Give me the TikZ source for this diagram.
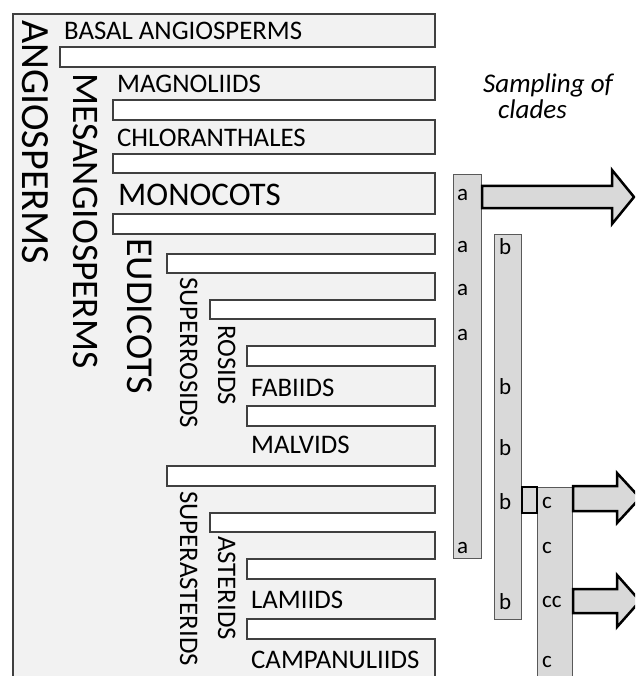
\documentclass[tikz,border=0pt]{standalone}
\usepackage{fontspec}
\setmainfont{Carlito}
\usetikzlibrary{positioning}
\definecolor{hellgrau}{RGB}{242,242,242}
\definecolor{spaltengrau}{RGB}{217,217,217}

\begin{document}
\begin{tikzpicture}[x=1pt,y=-1pt,
	baum/.style={draw=black!75, fill=hellgrau, line width=1.2pt},
	lbl/.style={inner sep=0pt, anchor=base west, font=\fontsize{26.8}{26.8}\selectfont},
	vlbl/.style={lbl, rotate=-90},
	spalte/.style={draw=black!65, fill=spaltengrau, line width=1pt, inner sep=0pt, anchor=north west},
	buchst/.style={inner sep=0pt, anchor=west, font=\fontsize{23}{23}\selectfont},
	blockpfeil/.style={draw=black, fill=spaltengrau, line width=2.5pt}]
	% Rahmen
	\useasboundingbox (0,0) rectangle (635,676);
	\clip (0,0) rectangle (635,676);
	% Baum
	\draw[baum] (13,700) -- (13,14) -- (435,14) -- (435,47) -- (60,47) -- (60,67) -- (435,67)
		-- (435,100) -- (113,100) -- (113,120) -- (435,120) -- (435,154) -- (113,154) -- (113,173) -- (435,173)
		-- (435,214) -- (113,214) -- (113,234) -- (435,234) -- (435,254) -- (167,254) -- (167,273) -- (435,273)
		-- (435,300) -- (210,300) -- (210,319) -- (435,319) -- (435,346) -- (247,346) -- (247,366) -- (435,366)
		-- (435,406) -- (247,406) -- (247,426) -- (435,426) -- (435,466) -- (167,466) -- (167,486) -- (435,486)
		-- (435,513) -- (210,513) -- (210,532) -- (435,532) -- (435,559) -- (247,559) -- (247,579) -- (435,579)
		-- (435,619) -- (247,619) -- (247,639) -- (435,639) -- (435,700) -- cycle;
	% Gruppen, waagrecht
	\node (basal) at (64,40) [lbl] {BASAL ANGIOSPERMS};
	\node (magno) at (117,93) [lbl] {MAGNOLIIDS};
	\node (chlor) at (117,147) [lbl] {CHLORANTHALES};
	\node (mono) at (118,205) [lbl, font=\fontsize{33}{33}\selectfont] {MONOCOTS};
	\node (fab) at (251,396) [lbl] {FABIIDS};
	\node (malv) at (251,453) [lbl] {MALVIDS};
	\node (lam) at (251,608) [lbl] {LAMIIDS};
	\node (camp) at (251,668) [lbl] {CAMPANULIIDS};
	% Gruppen, senkrecht
	\node (angio) at (22,20) [vlbl, font=\fontsize{40}{40}\selectfont] {ANGIOSPERMS};
	\node (mesang) at (73,73) [vlbl, font=\fontsize{37.5}{37.5}\selectfont] {MESANGIOSPERMS};
	\node (eudi) at (127,238) [vlbl, font=\fontsize{38}{38}\selectfont] {EUDICOTS};
	\node (suprosi) at (180,277) [vlbl] {SUPERROSIDS};
	\node (rosi) at (218,325) [vlbl] {ROSIDS};
	\node (supaste) at (180,491) [vlbl] {SUPERASTERIDS};
	\node (aste) at (218,536) [vlbl] {ASTERIDS};
	% Spalten
	\node (spA) at (453,174) [spalte, minimum width=28pt, minimum height=384pt] {};
	\node (spB) at (494,234) [spalte, minimum width=27pt, minimum height=385pt] {};
	\node (spC) at (537,487) [spalte, minimum width=35pt, minimum height=220pt] {};
	% Buchstaben
	\node (a1) at (457,195) [buchst] {a};
	\node (a2) at (457,247) [buchst] {a};
	\node (a3) at (457,290) [buchst] {a};
	\node (a4) at (457,335) [buchst] {a};
	\node (a5) at (457,548) [buchst] {a};
	\node (b1) at (499,247) [buchst] {b};
	\node (b2) at (499,387) [buchst] {b};
	\node (b3) at (499,448) [buchst] {b};
	\node (b4) at (499,502) [buchst] {b};
	\node (b5) at (499,602) [buchst] {b};
	\node (c1) at (542,503) [buchst] {c};
	\node (c2) at (542,548) [buchst] {c};
	\node (c3) at (542,602) [buchst] {cc};
	\node (c4) at (542,662) [buchst] {c};
	% Pfeile
	\coordinate (spitzeA) at (634,197);
	\coordinate (spitzeB) at (640,498);
	\coordinate (spitzeC) at (640,601);
	\draw[blockpfeil] (spA.east |- 0,186) -- (612,186) -- (612,170) -- (spitzeA) -- (612,224) -- (612,208) -- (spA.east |- 0,208) -- cycle;
	\draw[blockpfeil] (spC.east |- 0,486) -- (617,486) -- (617,473) -- (spitzeB) -- (617,523) -- (617,511) -- (spC.east |- 0,511) -- cycle;
	\draw[blockpfeil] (spC.east |- 0,589) -- (617,589) -- (617,575) -- (spitzeC) -- (617,627) -- (617,613) -- (spC.east |- 0,613) -- cycle;
	\draw[blockpfeil, line width=2pt] (spB.east |- spC.north) rectangle ([yshift=-26pt]spC.north west);
	% Titel
	\node (samp) at (483,74) [anchor=north west, inner sep=0pt, align=left, font=\fontsize{27}{26}\selectfont\itshape] {Sampling of\\\hspace*{15pt}clades};
\end{tikzpicture}
\end{document}
